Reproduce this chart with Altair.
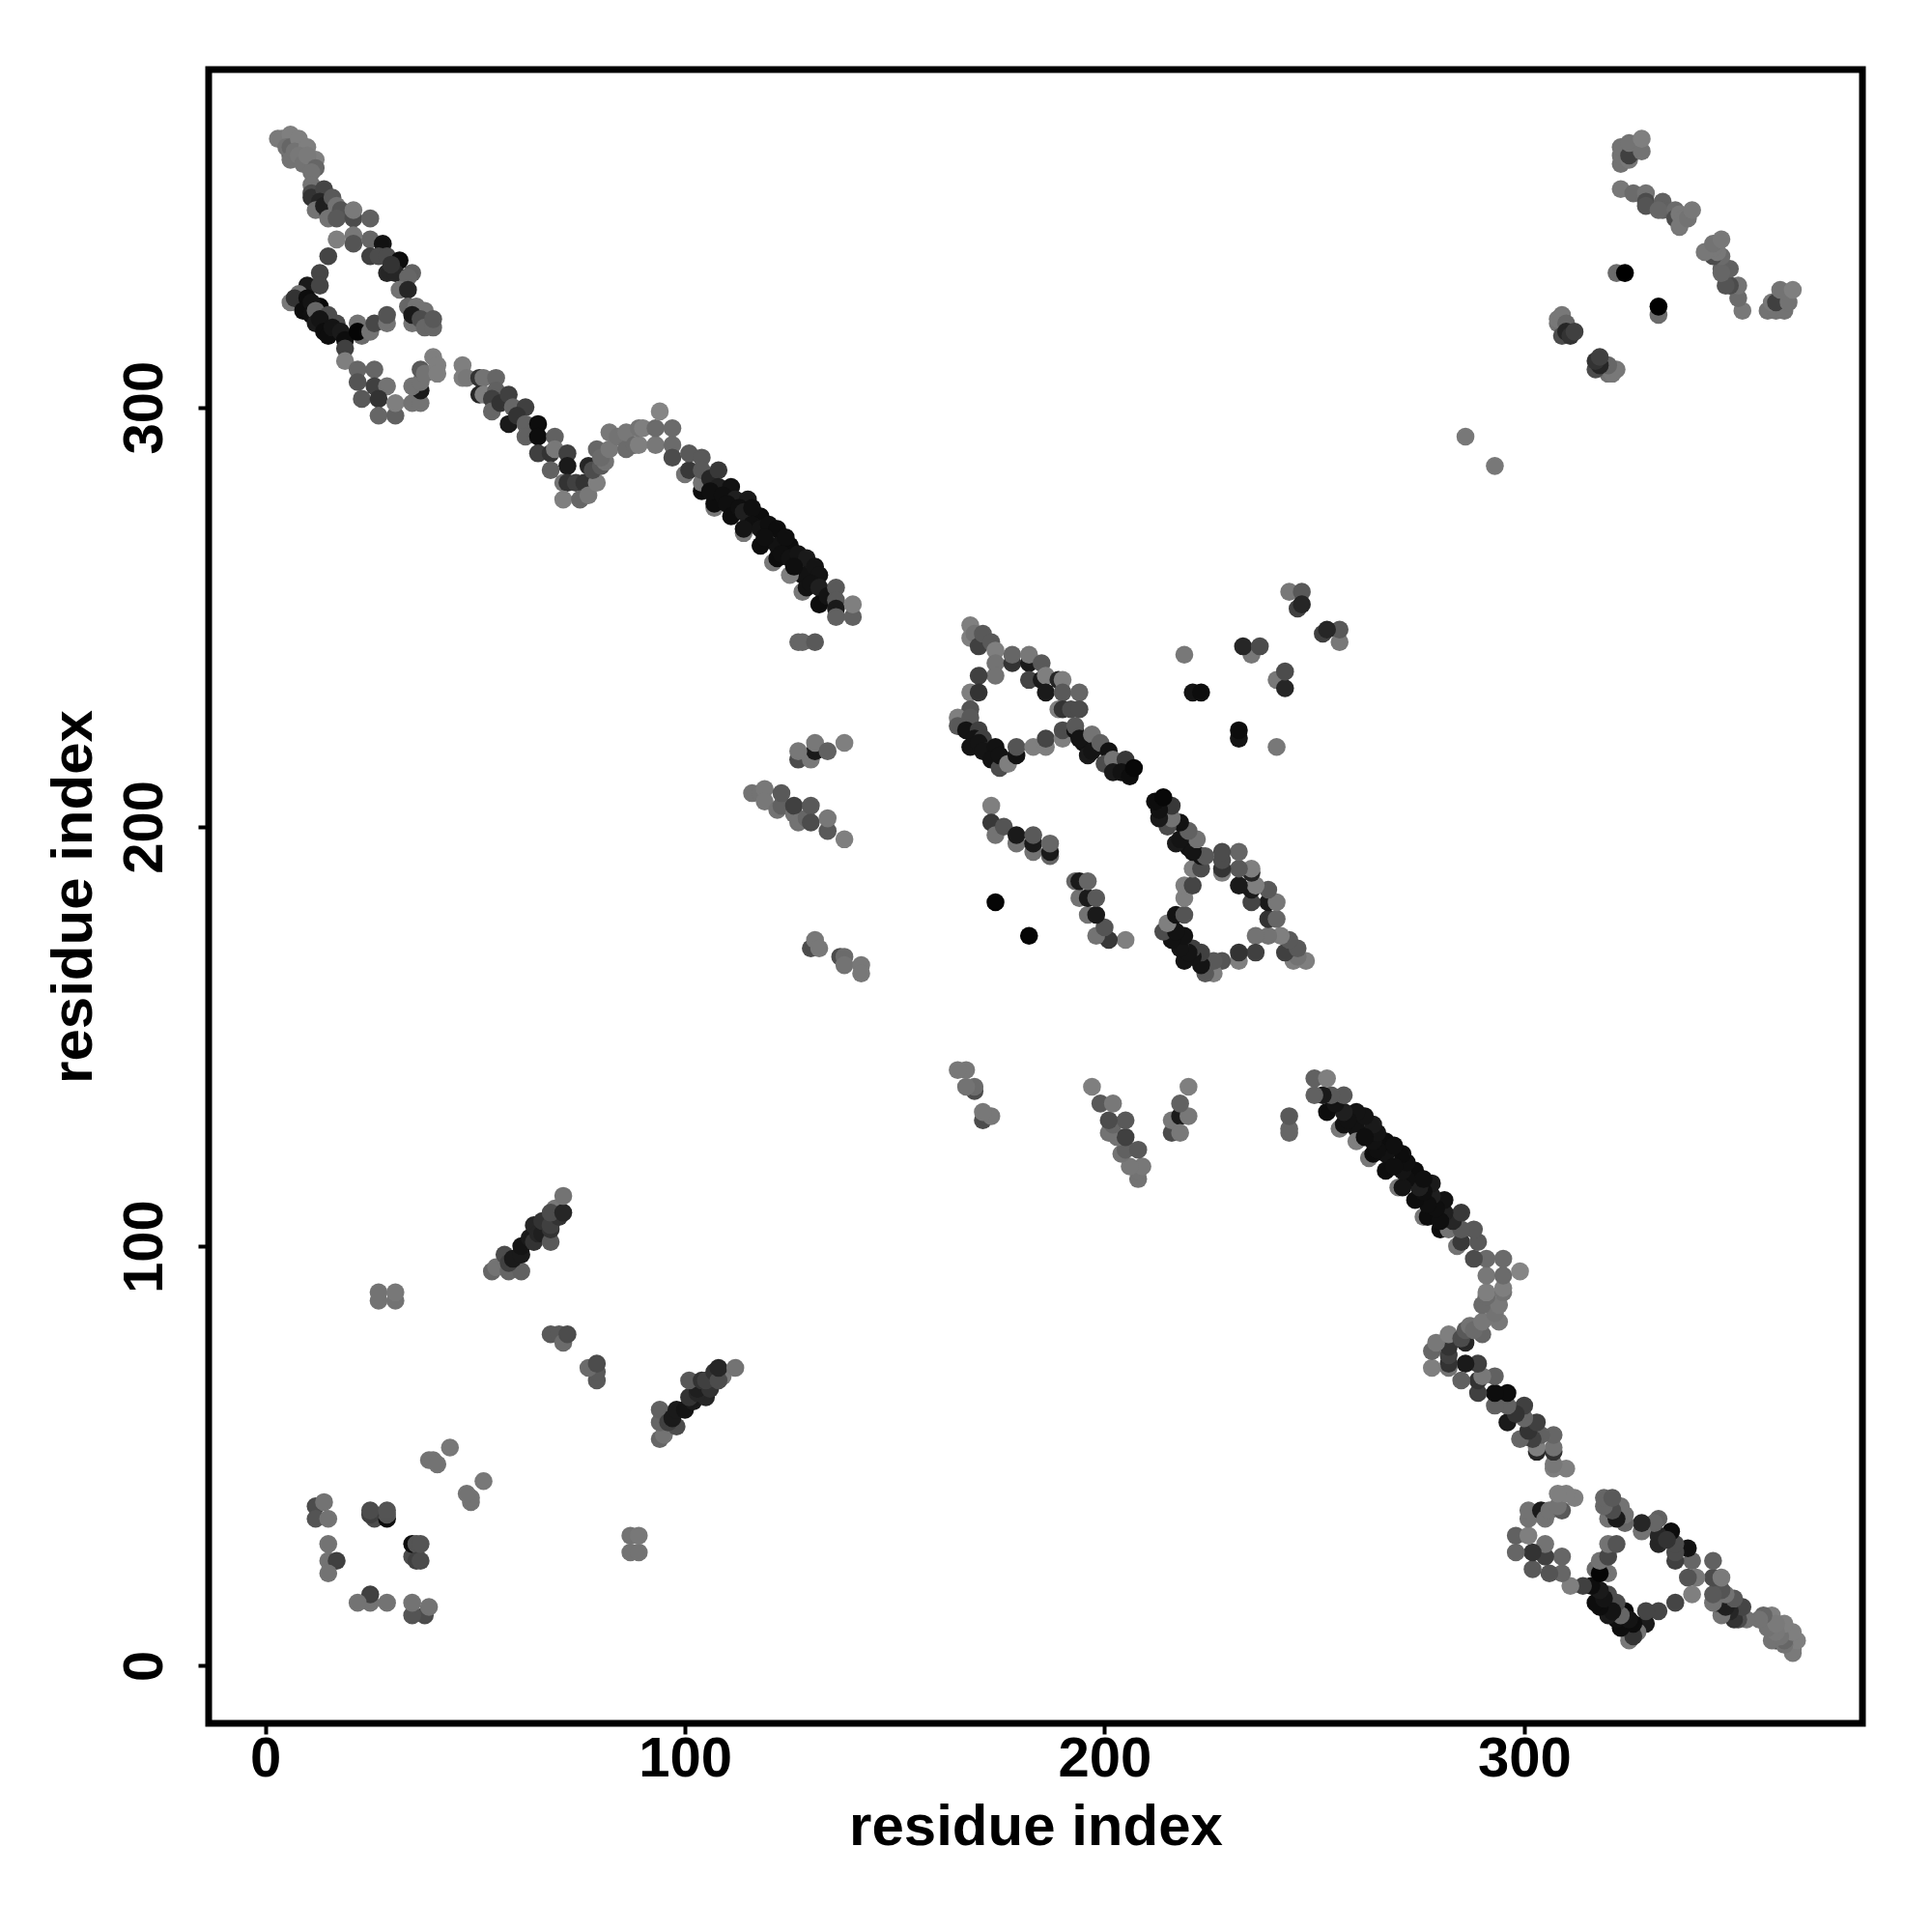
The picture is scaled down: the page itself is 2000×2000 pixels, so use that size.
import altair as alt
import pandas as pd

# contact pairs (residue i, residue j, grey percent); every contact appears as (i,j) and (j,i)
top_cluster = [(6,360,20),(3,364,48),(4,364,48),(6,365,50),(5,362,45),(6,362,40),(6,359,45),(8,364,50),(7,361,45),(10,362,50),(8,360,47),(9,358,45),(12,359,50),(10,360,48),(12,357,40),(11,356,45),(11,353,45),(11,351,30),(11,350,20),(14,352,27),(13,349,15),(12,347,45),(15,346,15),(14,348,12),(15,345,45),(16,350,35),(17,348,45),(18,347,33),(17,345,35),(21,345,30),(21,347,48),(25,345,38),(21,341,47),(21,339,33),(17,340,50)]
left_arm = [(15,336,27),(13,332,27),(10,329,10),(13,329,27),(6,325,47),(8,327,45),(7,326,20),(10,326,5),(13,324,3),(9,323,5),(11,325,8),(11,322,6),(12,323,40),(15,322,30),(12,320,10),(13,321,8),(17,320,30),(14,318,5),(15,317,5),(16,319,8),(18,318,10),(19,316,5),(23,317,42),(22,320,45),(22,318,2),(25,318,45),(26,320,28),(29,320,45),(29,322,33)]
right_arm = [(25,340,40),(28,339,7),(25,336,25),(27,336,30),(29,336,30),(32,335,5),(29,332,15),(31,332,15),(30,334,20),(35,332,38),(34,331,40),(32,328,45),(34,328,15),(34,324,40),(36,324,45),(38,323,45),(35,320,45),(35,322,10),(37,321,30),(38,319,40),(40,319,40),(40,321,35)]
lower_loop = [(19,314,25),(19,311,50),(22,309,40),(26,309,40),(22,306,33),(26,305,25),(29,305,45),(23,302,35),(27,302,20),(27,298,40),(31,298,38),(31,301,50),(35,301,45),(37,301,45),(37,304,10),(35,305,45),(37,306,45),(37,309,35),(38,308,45),(40,312,50),(41,310,50),(41,308,50)]
strand_a = [(47,310,50),(47,307,50),(48,307,47),(51,307,20),(52,307,45),(55,307,40),(51,303,15),(52,303,50),(55,304,38),(54,302,25),(54,299,40),(56,301,20),(58,303,25),(59,300,40),(62,300,25),(58,296,10),(60,298,20),(62,296,38),(62,293,38),(65,296,5),(65,293,5),(69,293,38),(65,289,25),(68,289,20),(69,290,47),(72,289,25),(72,286,10),(68,285,38),(71,282,45),(72,282,20),(74,282,25),(76,282,20),(71,278,50),(75,278,40),(77,279,47),(79,282,50)]
hump = [(77,286,15),(78,285,30),(80,286,35),(79,290,40),(81,287,45),(80,288,42),(82,294,47),(82,290,47),(84,293,45),(86,290,42),(86,294,47),(88,291,42),(89,291,50),(89,295,45),(90,295,50),(93,291,47),(93,295,42),(94,299,52),(97,295,42),(97,291,42)]
strand_b = [(97,288,30),(100,284,45),(101,285,22),(101,289,35),(104,288,35),(104,280,5),(104,282,45),(104,285,35),(106,283,15),(108,285,22),(108,281,12),(111,281,7),(107,276,47),(107,277,5),(106,280,6),(109,279,6),(112,278,12),(110,277,6),(115,278,10),(111,274,5),(113,276,6),(114,275,12),(118,274,5),(116,276,6),(116,272,6),(114,270,47),(114,271,8),(118,271,8),(120,272,6),(122,271,5),(118,267,5),(122,267,7),(119,269,6),(125,267,5),(124,269,6),(121,263,47),(122,264,5),(123,265,6),(125,264,7),(127,265,8),(129,264,10),(128,260,7),(125,260,50),(126,262,6),(131,262,8),(132,260,8),(128,256,47),(129,257,7),(130,258,7),(132,257,12),(132,253,5),(134,255,8),(136,257,35),(136,254,35),(136,252,10),(136,250,38),(140,250,38),(140,253,50)]
side_a = [(127,244,40),(128,244,40),(131,244,35)]
side_b = [(127,216,30),(130,216,47),(131,218,10),(127,218,47),(131,220,47),(134,218,38),(138,220,50)]
side_c = [(116,208,45),(118,208,45),(119,209,47),(119,206,47),(122,204,45),(123,205,38),(123,208,35),(126,203,45),(126,205,25),(127,201,45),(129,202,40),(130,205,35),(130,201,30),(134,199,35),(134,202,47),(138,197,50)]
side_d = [(130,171,30),(131,173,47),(132,171,47),(137,169,30),(138,169,42),(138,167,45),(142,167,47),(142,165,47)]
loop_top = [(168,248,50),(168,245,50),(169,246,45),(170,243,25),(171,246,35),(173,244,35),(174,242,50),(174,239,45),(178,239,20),(178,241,40),(182,239,10),(182,241,47),(185,239,35),(174,236,45),(170,236,25),(168,232,50),(170,232,20),(182,235,27),(185,235,10),(186,236,50),(189,235,15),(190,235,50),(186,232,10),(190,232,35),(194,232,40),(189,228,50),(190,228,20),(192,228,30),(194,228,30)]
loop_bottom = [(168,228,33),(165,226,50),(165,224,35),(168,226,35),(167,223,8),(170,223,25),(169,221,8),(171,221,25),(168,219,8),(170,220,8),(172,218,15),(171,218,8),(174,219,7),(173,216,7),(175,214,30),(175,217,7),(177,215,50),(179,217,7),(179,219,33),(183,219,50),(186,219,50),(186,221,27),(190,221,50),(190,223,30)]
loop_tail = [(193,223,7),(193,224,35),(195,220,7),(194,221,8),(197,222,45),(196,217,10),(197,218,8),(199,220,38),(201,218,7),(200,215,30),(202,216,45),(202,213,10),(205,216,22),(204,213,7),(206,212,5),(207,214,3)]
mid_group = [(173,205,50),(173,201,22),(174,198,45),(176,200,33),(179,196,45),(179,198,10),(183,194,45),(183,196,10),(183,198,35),(187,193,40),(187,194,10),(187,196,40),(174,182,2)]
far_group = [(219,241,47),(221,232,8),(223,232,5),(235,241,47),(233,243,15),(237,243,30),(244,256,47),(247,256,35),(246,252,25),(247,253,15),(286,293,47)]
corner_a = [(308,320,45),(308,321,47),(309,322,47),(310,320,40),(309,317,30),(310,318,15),(311,317,20),(312,318,25),(322,332,42),(324,332,0)]
corner_b = [(323,358,45),(323,360,45),(323,362,45),(325,359,47),(325,360,25),(325,363,45),(328,361,45),(328,364,50),(323,352,47),(326,351,42),(329,351,45),(329,349,30),(329,348,33),(333,349,38),(333,347,38),(332,347,40),(336,347,42),(336,345,30),(337,346,47),(338,345,47),(337,343,47),(339,345,45),(340,347,47)]
low_a = [(12,38,30),(14,39,45),(12,35,33),(15,35,45),(15,29,45),(15,25,45),(17,25,25),(15,22,45),(26,36,30),(26,35,30),(29,35,5),(29,36,33),(25,36,25),(25,37,30),(29,37,33)]
low_b = [(27,87,45),(27,89,45),(31,87,45),(31,89,47),(39,49,45),(40,49,45),(41,48,45),(44,52,47)]
low_c = [(54,94,40),(55,95,45),(58,94,40),(61,94,38),(57,98,30),(58,96,25),(59,97,10),(61,98,10),(61,100,8),(63,102,10),(64,101,20),(64,105,15),(65,103,15),(66,103,12),(66,106,20),(68,101,35),(68,104,20),(68,105,25),(69,109,47),(70,107,20),(68,108,30),(71,108,15),(71,112,45),(68,79,35),(70,79,35),(71,77,42),(72,79,30)]

groups = [top_cluster, left_arm, right_arm, lower_loop, strand_a, hump, strand_b, side_a, side_b, side_c, side_d,
          loop_top, loop_bottom, loop_tail, mid_group, far_group, corner_a, corner_b, low_a, low_b, low_c]

rows = []
for g in groups:
    for i, j, p in g:
        v = round(p * 2.55)
        rows.append({"a": i, "b": j, "c": f"rgb({v},{v},{v})"})
for g in groups:
    for i, j, p in g:
        v = round(p * 2.55)
        rows.append({"a": j, "b": i, "c": f"rgb({v},{v},{v})"})
df = pd.DataFrame(rows)

tick_values = [0, 100, 200, 300]
FONT = "Liberation Sans"

chart = alt.Chart(df).mark_point(filled=True, opacity=1, size=345, strokeWidth=0).encode(
    x=alt.X("a:Q", scale=alt.Scale(domain=[-13.5, 380.6], nice=False, zero=False),
            axis=alt.Axis(values=tick_values, title="residue index", grid=False, domain=False,
                          tickSize=11, tickWidth=4, tickColor="black",
                          labelFont=FONT, labelFontWeight="bold", labelFontSize=58, labelColor="black",
                          labelPadding=43, labelBaseline="alphabetic", labelFlush=False, labelOverlap=False,
                          titleFont=FONT, titleFontWeight="bold", titleFontSize=60, titleColor="black",
                          titlePadding=12)),
    y=alt.Y("b:Q", scale=alt.Scale(domain=[-13.75, 380.5], nice=False, zero=False),
            axis=alt.Axis(values=tick_values, title="residue index", grid=False, domain=False,
                          tickSize=11, tickWidth=4, tickColor="black",
                          labelFont=FONT, labelFontWeight="bold", labelFontSize=58, labelColor="black",
                          labelAngle=270, labelAlign="center", labelBaseline="bottom",
                          labelPadding=26, labelFlush=False, labelOverlap=False,
                          titleFont=FONT, titleFontWeight="bold", titleFontSize=60, titleColor="black",
                          titlePadding=14)),
    color=alt.Color("c:N", scale=None),
    order=alt.Order("idx:Q"),
).transform_window(idx="row_number()").properties(
    width=1712, height=1712,
    autosize=alt.AutoSizeParams(type="none"),
    padding={"left": 208, "top": 64, "right": 60, "bottom": 180},
    background="white",
).configure_view(stroke="black", strokeWidth=7)

chart.save("out.html", embed_options={"renderer": "svg", "actions": False})
